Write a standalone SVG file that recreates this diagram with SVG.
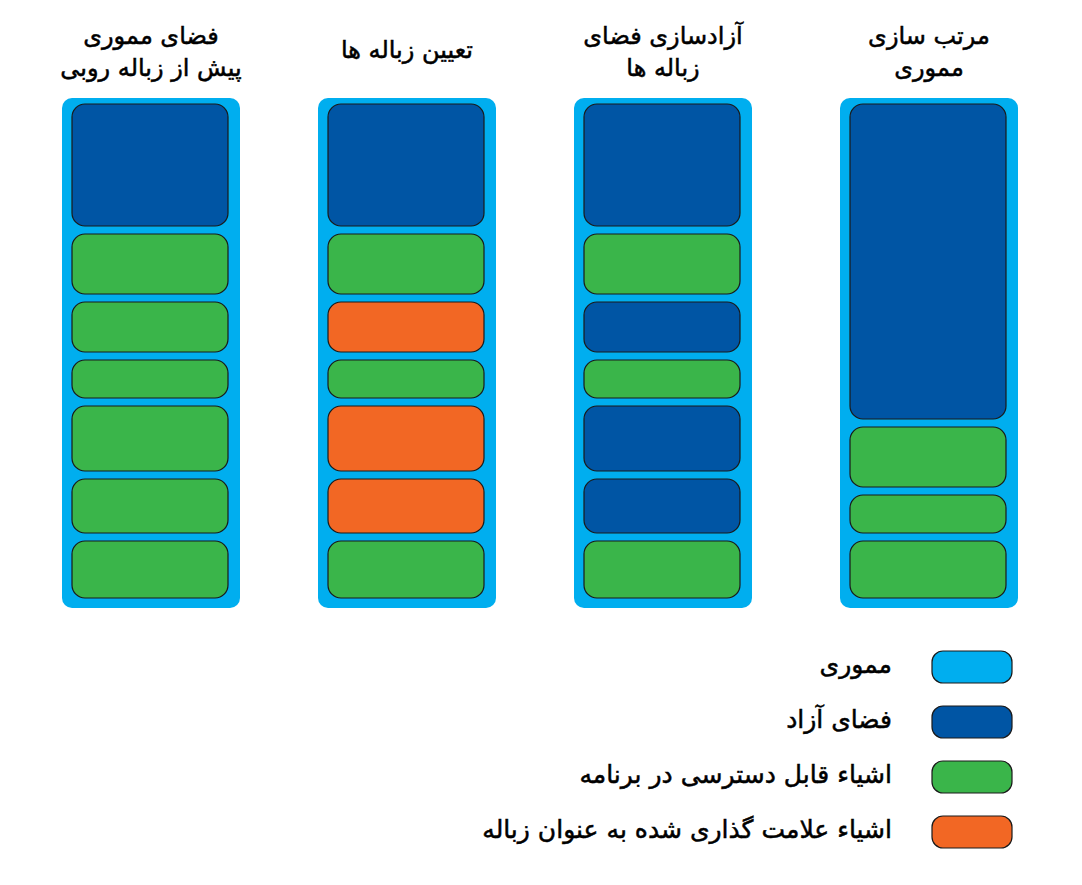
<svg xmlns="http://www.w3.org/2000/svg" width="1082" height="885" viewBox="0 0 1082 885">
<style>
.mem{fill:#00AEEF}
.blk{stroke:#1a1a1a;stroke-width:1.2}
.free{fill:#0055A4}
.obj{fill:#3AB54A}
.gar{fill:#F26724}
.title{font-family:"DejaVu Sans",sans-serif;font-size:24px;fill:#000;stroke:#000;stroke-width:0.5;text-anchor:middle}
.leg{font-family:"DejaVu Sans",sans-serif;font-size:25px;fill:#000;stroke:#000;stroke-width:0.5;text-anchor:end}
</style>
<rect width="1082" height="885" fill="#fff"/>
<g id="col1">
<text class="title" x="151" y="44">فضای مموری</text>
<text class="title" x="151" y="76">پیش از زباله روبی</text>
<rect class="mem" x="62" y="98" width="178" height="510" rx="10"/>
<rect class="blk free" x="72" y="104" width="156" height="122" rx="13"/>
<rect class="blk obj" x="72" y="234" width="156" height="60" rx="13"/>
<rect class="blk obj" x="72" y="302" width="156" height="50" rx="13"/>
<rect class="blk obj" x="72" y="360" width="156" height="38" rx="13"/>
<rect class="blk obj" x="72" y="406" width="156" height="65" rx="13"/>
<rect class="blk obj" x="72" y="479" width="156" height="54" rx="13"/>
<rect class="blk obj" x="72" y="541" width="156" height="57" rx="13"/>
</g>
<g id="col2">
<text class="title" x="407" y="58">تعیین زباله ها</text>
<rect class="mem" x="318" y="98" width="178" height="510" rx="10"/>
<rect class="blk free" x="328" y="104" width="156" height="122" rx="13"/>
<rect class="blk obj" x="328" y="234" width="156" height="60" rx="13"/>
<rect class="blk gar" x="328" y="302" width="156" height="50" rx="13"/>
<rect class="blk obj" x="328" y="360" width="156" height="38" rx="13"/>
<rect class="blk gar" x="328" y="406" width="156" height="65" rx="13"/>
<rect class="blk gar" x="328" y="479" width="156" height="54" rx="13"/>
<rect class="blk obj" x="328" y="541" width="156" height="57" rx="13"/>
</g>
<g id="col3">
<text class="title" x="663" y="44">آزادسازی فضای</text>
<text class="title" x="663" y="76">زباله ها</text>
<rect class="mem" x="574" y="98" width="178" height="510" rx="10"/>
<rect class="blk free" x="584" y="104" width="156" height="122" rx="13"/>
<rect class="blk obj" x="584" y="234" width="156" height="60" rx="13"/>
<rect class="blk free" x="584" y="302" width="156" height="50" rx="13"/>
<rect class="blk obj" x="584" y="360" width="156" height="38" rx="13"/>
<rect class="blk free" x="584" y="406" width="156" height="65" rx="13"/>
<rect class="blk free" x="584" y="479" width="156" height="54" rx="13"/>
<rect class="blk obj" x="584" y="541" width="156" height="57" rx="13"/>
</g>
<g id="col4">
<text class="title" x="929" y="44">مرتب سازی</text>
<text class="title" x="929" y="76">مموری</text>
<rect class="mem" x="840" y="98" width="178" height="510" rx="10"/>
<rect class="blk free" x="850" y="104" width="156" height="315" rx="13"/>
<rect class="blk obj" x="850" y="427" width="156" height="60" rx="13"/>
<rect class="blk obj" x="850" y="495" width="156" height="38" rx="13"/>
<rect class="blk obj" x="850" y="541" width="156" height="57" rx="13"/>
</g>
<g id="legend">
<rect class="blk mem" x="932" y="651" width="80" height="32" rx="11"/>
<text class="leg" x="892" y="673">مموری</text>
<rect class="blk free" x="932" y="706" width="80" height="32" rx="11"/>
<text class="leg" x="892" y="728">فضای آزاد</text>
<rect class="blk obj" x="932" y="761" width="80" height="32" rx="11"/>
<text class="leg" x="892" y="783">اشیاء قابل دسترسی در برنامه</text>
<rect class="blk gar" x="932" y="816" width="80" height="32" rx="11"/>
<text class="leg" x="892" y="838">اشیاء علامت گذاری شده به عنوان زباله</text>
</g>
<g id="connectors"/>
</svg>
